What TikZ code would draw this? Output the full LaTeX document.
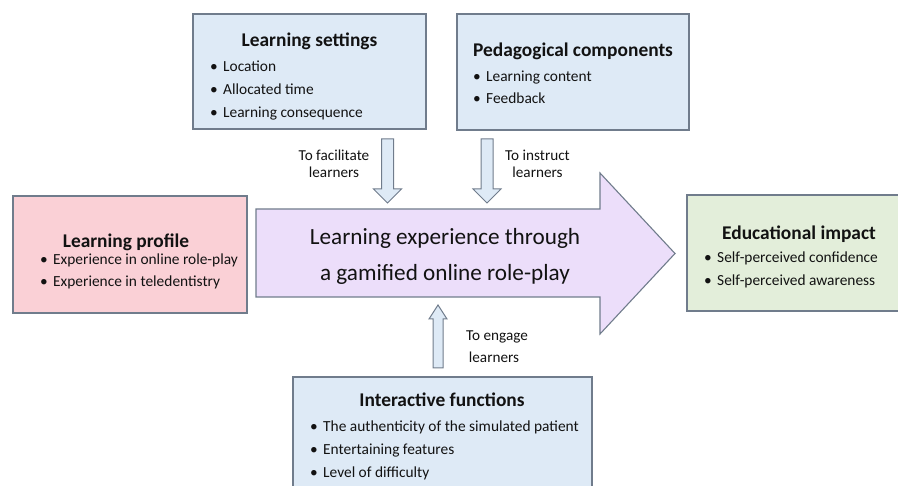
\documentclass[tikz,border=0pt]{standalone}
\usepackage{fontspec}
\setmainfont{Carlito}
\definecolor{paneblue}{RGB}{222,234,246}
\definecolor{panepink}{RGB}{250,208,214}
\definecolor{panegreen}{RGB}{227,238,218}
\definecolor{panelilac}{RGB}{236,222,250}
\definecolor{edgegray}{RGB}{112,124,140}
\definecolor{inkdark}{RGB}{18,18,18}
\newcommand\itemdot{\makebox[13pt][l]{•}}
\begin{document}
\begin{tikzpicture}[x=1pt,y=-1pt,
  panel/.style={draw=edgegray, line width=1.1pt},
  blockarrow/.style={draw=edgegray, line width=1pt, fill=paneblue, line join=miter},
  heading/.style={font=\fontsize{19.4}{22}\selectfont\bfseries, text=inkdark, anchor=base, inner sep=0pt},
  entry/.style={font=\fontsize{15.4}{18}\selectfont, text=inkdark, anchor=base west, inner sep=0pt},
  cue/.style={font=\fontsize{15.2}{18}\selectfont, text=inkdark, anchor=base, inner sep=0pt},
  flowtext/.style={font=\fontsize{23.2}{27}\selectfont, text=inkdark, anchor=base, inner sep=0pt},
]
\useasboundingbox (0,0) rectangle (898,486);

% ---- panels ----
\draw[panel, fill=paneblue]  (193,14)  rectangle (426,129);
\draw[panel, fill=paneblue]  (457,14)  rectangle (689,130);
\draw[panel, fill=panepink]  (13,196)  rectangle (247,313);
\draw[panel, fill=panegreen] (687,195) rectangle (910,311);
\draw[panel, fill=paneblue]  (293,377) rectangle (592,500);

% ---- central block arrow ----
\draw[panel, fill=panelilac, line join=miter]
  (256,209) -- (600,209) -- (600,173) -- (675,253.5) -- (600,334)
  -- (600,297) -- (256,297) -- cycle;
\node[flowtext] (flow1) at (445,245) {Learning experience through};
\node[flowtext] (flow2) at (445,281) {a gamified online role-play};

% ---- small block arrows ----
\draw[blockarrow] (381.5,139) -- (393.5,139) -- (393.5,189) -- (401.5,189)
  -- (387.5,203) -- (373.5,189) -- (381.5,189) -- cycle;
\draw[blockarrow] (481,139) -- (493,139) -- (493,189) -- (501,189)
  -- (487,203) -- (473,189) -- (481,189) -- cycle;
\draw[blockarrow] (433,368) -- (443,368) -- (443,319) -- (447,319)
  -- (438,305) -- (429,319) -- (433,319) -- cycle;

\node[cue] (fac1) at (334,161) {To facilitate};
\node[cue] (fac2) at (334,178) {learners};
\node[cue] (ins1) at (537.5,161) {To instruct};
\node[cue] (ins2) at (537.5,178) {learners};
\node[cue] (eng1) at (497,341) {To engage};
\node[cue] (eng2) at (494,363) {learners};

% ---- Learning settings ----
\node[heading] (setT) at (309.5,47) {Learning settings};
\node[entry] (set1) at (210,72)  {\itemdot Location};
\node[entry] (set2) at (210,95)  {\itemdot Allocated time};
\node[entry] (set3) at (210,118) {\itemdot Learning consequence};

% ---- Pedagogical components ----
\node[heading] (pedT) at (573,57) {Pedagogical components};
\node[entry] (ped1) at (473,82)  {\itemdot Learning content};
\node[entry] (ped2) at (473,104) {\itemdot Feedback};

% ---- Learning profile ----
\node[heading] (proT) at (126,248) {Learning profile};
\node[entry] (pro1) at (40,265) {\itemdot Experience in online role-play};
\node[entry] (pro2) at (40,287) {\itemdot Experience in teledentistry};

% ---- Educational impact ----
\node[heading] (eduT) at (799,240) {Educational impact};
\node[entry] (edu1) at (704,263) {\itemdot Self-perceived confidence};
\node[entry] (edu2) at (704,286) {\itemdot Self-perceived awareness};

% ---- Interactive functions ----
\node[heading] (intT) at (442,407) {Interactive functions};
\node[entry] (int1) at (310,432) {\itemdot The authenticity of the simulated patient};
\node[entry] (int2) at (310,455) {\itemdot Entertaining features};
\node[entry] (int3) at (310,478) {\itemdot Level of difficulty};
\end{tikzpicture}
\end{document}
